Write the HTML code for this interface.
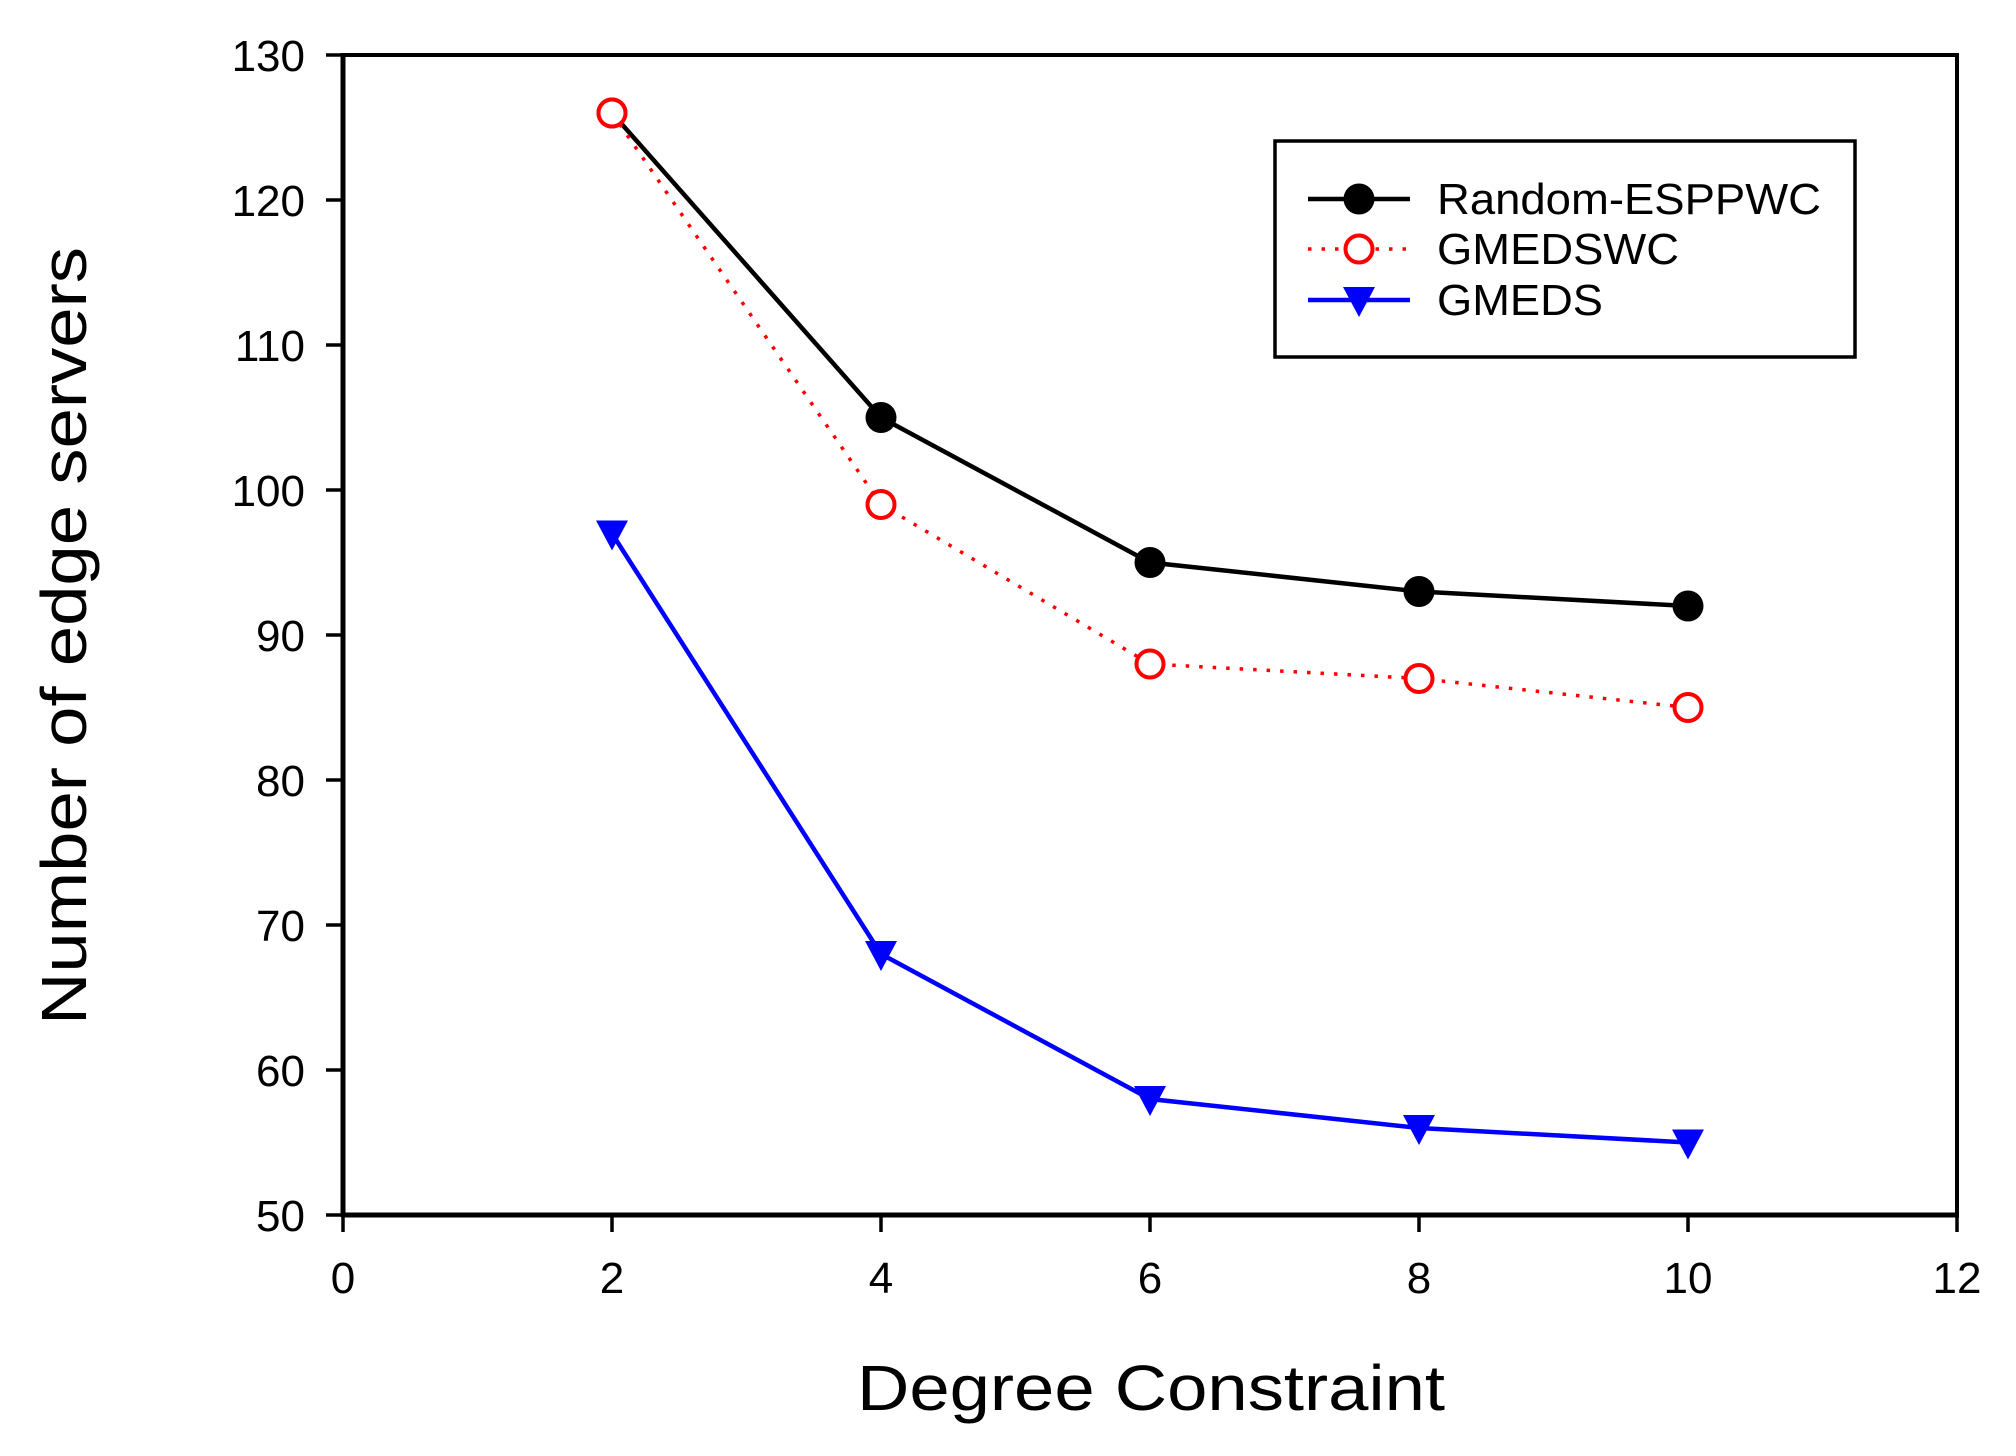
<!DOCTYPE html>
<html><head><meta charset="utf-8"><style>
html,body{margin:0;padding:0;background:#fff}
svg{display:block;font-family:"Liberation Sans",Arial,sans-serif}
</style></head><body>
<svg id="chart" width="2016" height="1456" viewBox="0 0 2016 1456" xmlns="http://www.w3.org/2000/svg">
<rect x="0" y="0" width="2016" height="1456" fill="#fff"/>
<g id="axes"></g>
<g id="series"></g>
<g id="legend"></g>
<text transform="translate(86,636) rotate(-90)" text-anchor="middle" font-size="64" textLength="778" lengthAdjust="spacingAndGlyphs">Number of edge servers</text>
<text x="1151" y="1410" text-anchor="middle" font-size="64" textLength="588" lengthAdjust="spacingAndGlyphs">Degree Constraint</text>
</svg>
<script>
const xCats = [2, 4, 6, 8, 10];
const randomEsppwc = [126, 105, 95, 93, 92];
const gmedswc = [126, 99, 88, 87, 85];
const gmeds = [97, 68, 58, 56, 55];
const xTicks = [0, 2, 4, 6, 8, 10, 12];
const yTicks = [50, 60, 70, 80, 90, 100, 110, 120, 130];
const seriesNames = ["Random-ESPPWC", "GMEDSWC", "GMEDS"];

const NS = "http://www.w3.org/2000/svg";
const L = 343, R = 1957, T = 55, B = 1215;
const xMin = 0, xMax = 12, yMin = 50, yMax = 130;
function sx(v){ return L + (v - xMin) / (xMax - xMin) * (R - L); }
function sy(v){ return B - (v - yMin) / (yMax - yMin) * (B - T); }
function mk(tag, attrs, parent){
  const e = document.createElementNS(NS, tag);
  for (const k in attrs) e.setAttribute(k, attrs[k]);
  parent.appendChild(e);
  return e;
}
const axes = document.getElementById('axes');
const frame = mk('rect', {x:L, y:T, width:R-L, height:B-T, fill:'none', stroke:'#000', 'stroke-width':4}, axes);


const xAxis = mk('line', {x1:L-2, y1:B, x2:R+2, y2:B, stroke:'#000', 'stroke-width':5}, axes);


const yAxis = mk('line', {x1:L, y1:T-2, x2:L, y2:B+2, stroke:'#000', 'stroke-width':5}, axes);


xTicks.forEach(v => {
  const t = mk('line', {x1:sx(v), y1:B, x2:sx(v), y2:B+17, stroke:'#000', 'stroke-width':3.5}, axes);
  
  
  const lb = mk('text', {x:sx(v), y:B+78, 'text-anchor':'middle', 'font-size':44}, axes);
  lb.textContent = v;
  
  
});
yTicks.forEach(v => {
  const t = mk('line', {x1:L-17, y1:sy(v), x2:L, y2:sy(v), stroke:'#000', 'stroke-width':3.5}, axes);
  
  
  const lb = mk('text', {x:L-38, y:sy(v)+16, 'text-anchor':'end', 'font-size':44}, axes);
  lb.textContent = v;
  
  
});

const styles = [
  {color:'#000', width:4.5, dash:null, marker:'dot'},
  {color:'#ff0000', width:3.5, dash:'3.5 10', marker:'ring'},
  {color:'#0000ff', width:4.5, dash:null, marker:'tri'}
];
const values = [randomEsppwc, gmedswc, gmeds];
function marker(kind, cx, cy, color, parent){
  let m;
  if (kind === 'dot') m = mk('circle', {cx:cx, cy:cy, r:15.5, fill:'#000'}, parent);
  else if (kind === 'ring') m = mk('circle', {cx:cx, cy:cy, r:13.5, fill:'#fff', stroke:color, 'stroke-width':4}, parent);
  else m = mk('polygon', {points:`${cx-16},${cy-13} ${cx+16},${cy-13} ${cx},${cy+17}`, fill:color}, parent);
  return m;
}
const sg = document.getElementById('series');
values.forEach((vals, i) => {
  const st = styles[i];
  const g = mk('g', {}, sg);
  
  
  const pts = xCats.map((x, j) => sx(x) + ',' + sy(vals[j])).join(' ');
  const pl = mk('polyline', {points:pts, fill:'none', stroke:st.color, 'stroke-width':st.width}, g);
  if (st.dash) pl.setAttribute('stroke-dasharray', st.dash);
  
  
  xCats.forEach((x, j) => {
    const m = marker(st.marker, sx(x), sy(vals[j]), st.color, g);
    
    
  });
});

const lg = document.getElementById('legend');


mk('rect', {x:1275, y:141, width:580, height:216, fill:'#fff', stroke:'#000', 'stroke-width':3.5}, lg);
const legYs = [199, 249, 300];
const legLens = [384, 242, 166];
seriesNames.forEach((n, i) => {
  const st = styles[i];
  const y = legYs[i];
  const g = mk('g', {}, lg);
  
  
  const ln = mk('line', {x1:1308, y1:y, x2:1410, y2:y, stroke:st.color, 'stroke-width':st.width}, g);
  if (st.dash) ln.setAttribute('stroke-dasharray', st.dash);
  marker(st.marker, 1359, y, st.color, g);
  const t = mk('text', {x:1437, y:y+15, 'font-size':44, textLength:legLens[i], lengthAdjust:'spacingAndGlyphs'}, g);
  t.textContent = n;
});
</script>
</body></html>
